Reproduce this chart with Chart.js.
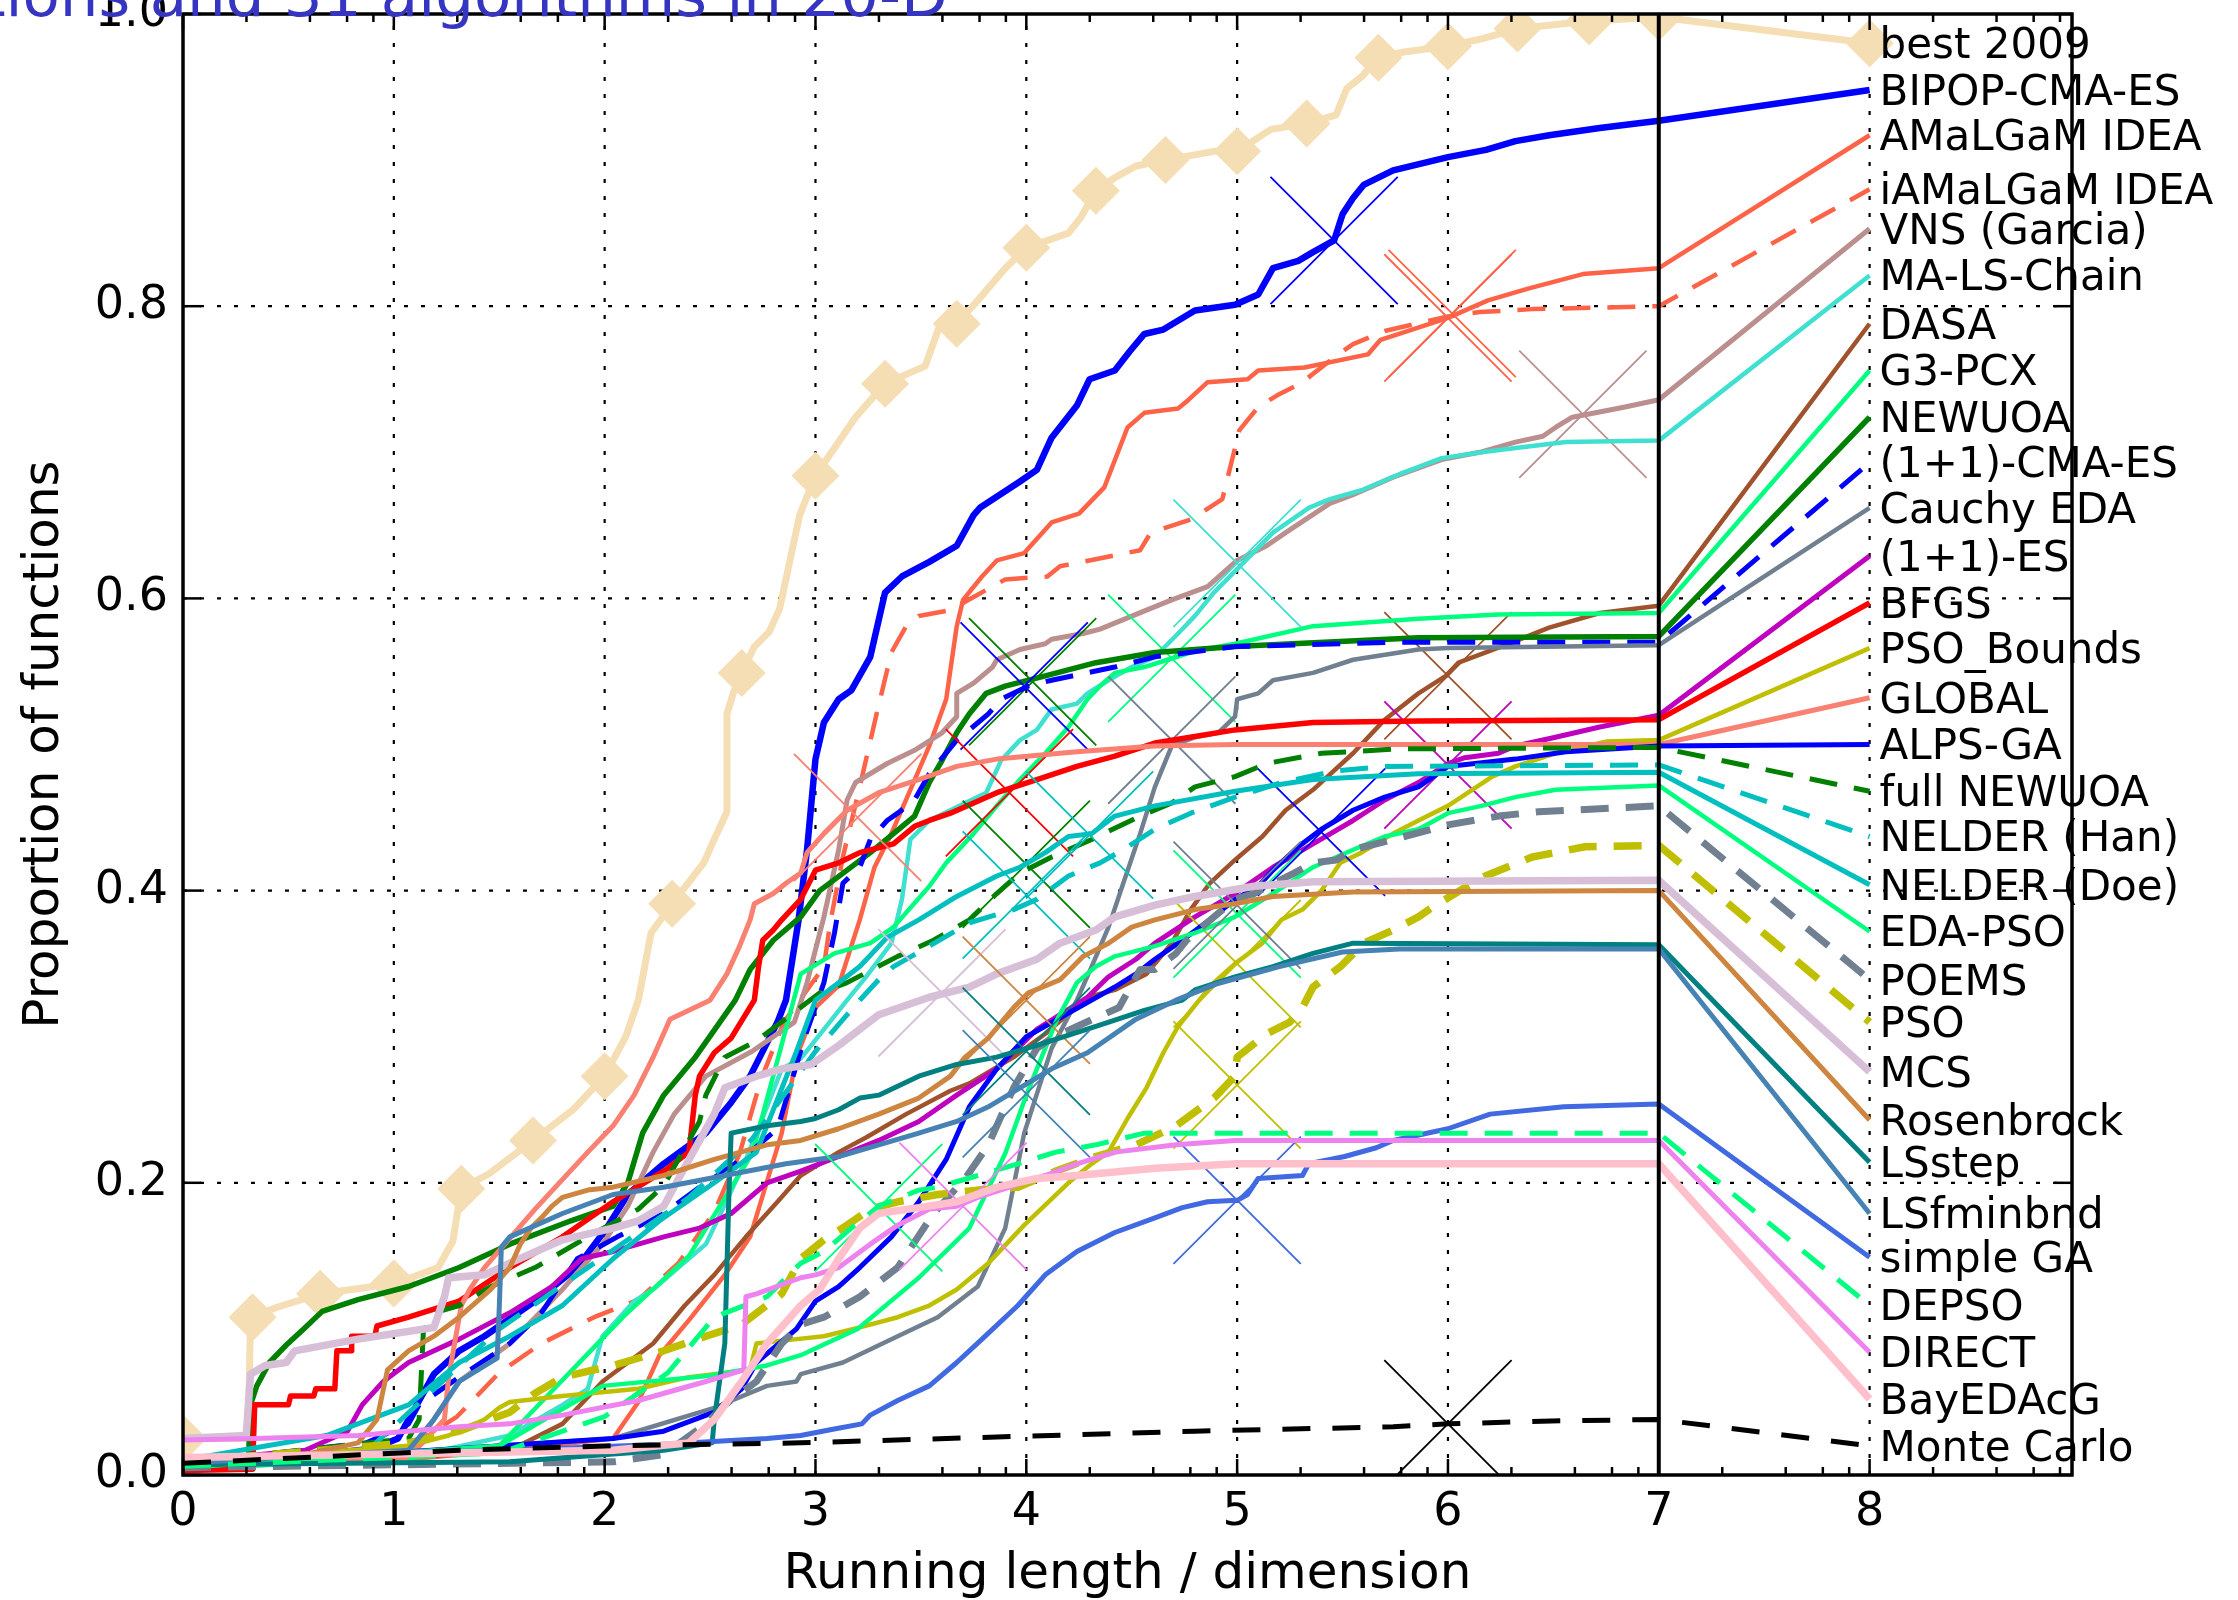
<!DOCTYPE html>
<html lang="en">
<head>
<meta charset="UTF-8">
<title>ECDF of running length, 31 algorithms, 20-D</title>
<script src="https://cdn.jsdelivr.net/npm/chart.js"></script>
<style>
  html, body { margin: 0; padding: 0; background: #fff; }
  #wrap { width: 2238px; height: 1600px; position: relative; }
</style>
</head>
<body>
<div id="wrap"><canvas id="ecdf"></canvas></div>
<script>
// legend order, top to bottom
const algNames = ['best 2009', 'BIPOP-CMA-ES', 'AMaLGaM IDEA', 'iAMaLGaM IDEA', 'VNS (Garcia)',
  'MA-LS-Chain', 'DASA', 'G3-PCX', 'NEWUOA', '(1+1)-CMA-ES', 'Cauchy EDA', '(1+1)-ES', 'BFGS',
  'PSO_Bounds', 'GLOBAL', 'ALPS-GA', 'full NEWUOA', 'NELDER (Han)', 'NELDER (Doe)', 'EDA-PSO',
  'POEMS', 'PSO', 'MCS', 'Rosenbrock', 'LSstep', 'LSfminbnd', 'simple GA', 'DEPSO', 'DIRECT',
  'BayEDAcG', 'Monte Carlo'];

const xTicks = [0, 1, 2, 3, 4, 5, 6, 7, 8];
const yTicks = [0, 0.2, 0.4, 0.6, 0.8, 1.0];

// [running length / dimension, proportion of functions]; last point (x=8) is where the legend entry sits
const best2009 = [[0,0.025],[0.31,0.025],[0.32,0.108],[0.45,0.115],[0.65,0.124],[0.8,0.127],[1.0,0.131],[1.1,0.136],[1.21,0.142],[1.28,0.16],[1.32,0.196],[1.45,0.206],[1.66,0.229],[1.85,0.25],[2.0,0.273],[2.1,0.3],[2.16,0.325],[2.22,0.371],[2.32,0.391],[2.47,0.419],[2.51,0.432],[2.58,0.454],[2.58,0.521],[2.61,0.535],[2.65,0.549],[2.71,0.567],[2.78,0.577],[2.83,0.593],[2.925,0.657],[3.0,0.684],[3.19,0.724],[3.33,0.747],[3.52,0.759],[3.59,0.787],[3.67,0.788],[3.77,0.804],[3.9,0.826],[4.0,0.84],[4.2,0.85],[4.26,0.861],[4.33,0.879],[4.42,0.888],[4.52,0.896],[4.66,0.9],[4.89,0.906],[5.0,0.906],[5.16,0.921],[5.33,0.925],[5.47,0.931],[5.52,0.949],[5.59,0.957],[5.67,0.97],[5.79,0.974],[6.0,0.978],[6.16,0.983],[6.33,0.99],[6.59,0.994],[6.67,0.995],[7.0,0.998],[8,0.98]];
const bipop = [[0,0.008],[0.5,0.012],[0.9,0.018],[1.02,0.025],[1.07,0.038],[1.19,0.069],[1.31,0.085],[1.43,0.095],[1.67,0.119],[1.87,0.142],[2.01,0.169],[2.11,0.192],[2.28,0.213],[2.48,0.234],[2.6,0.255],[2.69,0.273],[2.82,0.31],[2.86,0.325],[2.92,0.38],[2.96,0.428],[3.0,0.49],[3.04,0.515],[3.11,0.531],[3.17,0.537],[3.26,0.56],[3.33,0.604],[3.41,0.615],[3.54,0.625],[3.67,0.636],[3.75,0.657],[3.78,0.662],[3.97,0.68],[4.05,0.688],[4.12,0.71],[4.24,0.732],[4.3,0.75],[4.42,0.756],[4.49,0.769],[4.56,0.781],[4.65,0.784],[4.8,0.797],[4.99,0.801],[5.1,0.808],[5.17,0.826],[5.29,0.831],[5.36,0.837],[5.46,0.845],[5.5,0.863],[5.55,0.874],[5.6,0.883],[5.74,0.893],[6.0,0.902],[6.18,0.907],[6.32,0.913],[6.48,0.917],[6.72,0.922],[7.0,0.927],[8,0.948]];
const amalgam = [[0,0.005],[1.0,0.01],[1.55,0.017],[2.04,0.025],[2.16,0.05],[2.26,0.082],[2.4,0.106],[2.57,0.137],[2.69,0.163],[2.84,0.234],[2.91,0.286],[3.0,0.32],[3.11,0.335],[3.21,0.38],[3.28,0.416],[3.36,0.439],[3.45,0.469],[3.54,0.499],[3.62,0.531],[3.67,0.581],[3.7,0.599],[3.79,0.615],[3.86,0.626],[3.99,0.631],[4.12,0.652],[4.25,0.658],[4.37,0.676],[4.48,0.717],[4.56,0.727],[4.72,0.73],[4.77,0.736],[4.86,0.748],[5.05,0.75],[5.1,0.756],[5.32,0.758],[5.62,0.767],[5.68,0.777],[5.83,0.784],[6.0,0.792],[6.19,0.804],[6.38,0.812],[6.64,0.822],[7.0,0.826],[8,0.917]];
const iamalgam = [[0,0.005],[1.0,0.012],[1.3,0.04],[1.5,0.07],[1.7,0.09],[1.95,0.108],[2.16,0.12],[2.35,0.145],[2.52,0.18],[2.64,0.22],[2.74,0.27],[2.85,0.31],[3.04,0.348],[3.07,0.378],[3.13,0.423],[3.21,0.471],[3.29,0.521],[3.36,0.563],[3.43,0.581],[3.49,0.588],[3.64,0.592],[3.75,0.601],[3.9,0.613],[4.1,0.615],[4.16,0.622],[4.37,0.628],[4.54,0.633],[4.59,0.645],[4.78,0.654],[4.93,0.668],[4.99,0.703],[5.01,0.715],[5.1,0.731],[5.19,0.739],[5.3,0.747],[5.47,0.766],[5.55,0.774],[5.7,0.783],[6.0,0.793],[6.15,0.796],[6.4,0.798],[7.0,0.8],[8,0.88]];
const vns = [[0,0.005],[1.07,0.014],[1.19,0.038],[1.31,0.064],[1.55,0.09],[1.8,0.127],[1.99,0.158],[2.11,0.184],[2.23,0.221],[2.33,0.247],[2.48,0.273],[2.7,0.29],[2.9,0.31],[2.96,0.337],[3.04,0.382],[3.11,0.428],[3.15,0.462],[3.19,0.474],[3.34,0.487],[3.47,0.496],[3.6,0.508],[3.67,0.519],[3.67,0.535],[3.75,0.542],[3.84,0.553],[3.86,0.558],[3.97,0.565],[4.09,0.569],[4.12,0.572],[4.27,0.576],[4.35,0.579],[4.57,0.592],[4.69,0.599],[4.86,0.608],[5.0,0.626],[5.14,0.636],[5.23,0.645],[5.44,0.665],[5.55,0.671],[5.74,0.683],[5.97,0.695],[6.15,0.7],[6.32,0.707],[6.45,0.711],[6.51,0.717],[6.59,0.724],[6.84,0.731],[7.0,0.736],[8,0.853]];
const maLsChain = [[0,0.005],[1.0,0.01],[1.55,0.027],[1.8,0.048],[1.92,0.059],[1.99,0.095],[2.14,0.119],[2.23,0.127],[2.35,0.142],[2.48,0.158],[2.55,0.179],[2.67,0.216],[2.77,0.252],[2.84,0.278],[2.93,0.285],[3.15,0.325],[3.24,0.341],[3.36,0.364],[3.41,0.394],[3.45,0.435],[3.54,0.448],[3.71,0.46],[3.81,0.467],[3.88,0.489],[3.97,0.503],[4.05,0.51],[4.12,0.524],[4.24,0.528],[4.29,0.535],[4.39,0.544],[4.5,0.553],[4.61,0.56],[4.72,0.576],[4.8,0.588],[4.89,0.604],[5.0,0.62],[5.17,0.645],[5.34,0.662],[5.44,0.668],[5.59,0.674],[5.77,0.685],[5.97,0.696],[6.16,0.7],[6.32,0.703],[6.56,0.707],[7.0,0.708],[8,0.821]];
const dasa = [[0,0.008],[1.07,0.012],[1.55,0.017],[1.8,0.035],[1.99,0.064],[2.11,0.077],[2.23,0.09],[2.38,0.116],[2.52,0.137],[2.67,0.163],[2.82,0.187],[2.93,0.205],[3.11,0.221],[3.24,0.231],[3.43,0.247],[3.64,0.263],[3.73,0.268],[3.94,0.286],[4.09,0.302],[4.29,0.327],[4.42,0.332],[4.57,0.343],[4.69,0.364],[4.78,0.387],[4.87,0.405],[4.99,0.421],[5.12,0.437],[5.23,0.455],[5.36,0.469],[5.55,0.494],[5.7,0.517],[5.86,0.535],[5.99,0.547],[6.05,0.556],[6.29,0.569],[6.48,0.58],[6.72,0.59],[7.0,0.595],[8,0.788]];
const g3pcx = [[0,0.005],[1.0,0.01],[1.5,0.02],[1.7,0.05],[1.9,0.08],[2.1,0.11],[2.4,0.15],[2.7,0.22],[2.85,0.3],[2.93,0.343],[3.09,0.357],[3.26,0.364],[3.37,0.375],[3.54,0.403],[3.62,0.419],[3.75,0.439],[3.86,0.458],[3.97,0.476],[4.09,0.494],[4.2,0.512],[4.29,0.531],[4.35,0.54],[4.42,0.549],[4.56,0.553],[4.67,0.558],[4.8,0.564],[4.99,0.569],[5.36,0.581],[5.86,0.586],[6.24,0.589],[7.0,0.59],[8,0.756]];
const newuoa = [[0,0.005],[0.31,0.007],[0.32,0.048],[0.35,0.061],[0.41,0.077],[0.49,0.089],[0.58,0.101],[0.66,0.112],[0.83,0.12],[1.07,0.129],[1.31,0.142],[1.55,0.158],[1.84,0.174],[2.04,0.184],[2.11,0.2],[2.18,0.234],[2.28,0.26],[2.43,0.286],[2.62,0.325],[2.69,0.346],[2.8,0.366],[2.93,0.382],[3.02,0.4],[3.15,0.414],[3.26,0.426],[3.37,0.439],[3.47,0.451],[3.54,0.474],[3.6,0.489],[3.67,0.508],[3.73,0.521],[3.81,0.535],[3.9,0.54],[4.09,0.547],[4.33,0.556],[4.61,0.563],[4.99,0.567],[5.86,0.573],[7.0,0.574],[8,0.724]];
const cma11 = [[0,0.008],[0.87,0.022],[1.07,0.035],[1.12,0.048],[1.31,0.067],[1.55,0.09],[1.7,0.111],[1.87,0.148],[2.06,0.163],[2.28,0.179],[2.45,0.197],[2.65,0.216],[2.82,0.237],[2.95,0.3],[3.04,0.337],[3.09,0.371],[3.13,0.405],[3.21,0.416],[3.26,0.435],[3.34,0.448],[3.39,0.453],[3.47,0.462],[3.54,0.48],[3.67,0.503],[3.73,0.51],[3.82,0.521],[3.88,0.531],[4.01,0.54],[4.12,0.544],[4.42,0.553],[4.61,0.56],[4.99,0.567],[5.77,0.57],[7.0,0.57],[8,0.693]];
const cauchyEda = [[0,0.006],[2.04,0.025],[2.52,0.046],[2.77,0.061],[2.91,0.064],[2.93,0.069],[3.13,0.077],[3.39,0.095],[3.58,0.108],[3.77,0.129],[3.9,0.169],[3.99,0.234],[4.12,0.292],[4.24,0.325],[4.31,0.348],[4.39,0.375],[4.46,0.405],[4.54,0.439],[4.61,0.471],[4.69,0.499],[4.8,0.505],[4.91,0.508],[4.99,0.519],[5.0,0.531],[5.1,0.535],[5.17,0.544],[5.36,0.549],[5.55,0.558],[5.86,0.565],[6.0,0.566],[7.0,0.568],[8,0.662]];
const es11 = [[0,0.009],[0.58,0.017],[0.78,0.03],[0.85,0.048],[0.95,0.064],[1.07,0.077],[1.31,0.093],[1.55,0.111],[1.75,0.129],[1.89,0.148],[2.04,0.153],[2.28,0.163],[2.45,0.169],[2.6,0.179],[2.77,0.2],[2.93,0.208],[3.11,0.218],[3.3,0.229],[3.49,0.242],[3.67,0.26],[3.86,0.278],[4.05,0.305],[4.29,0.327],[4.39,0.341],[4.52,0.353],[4.61,0.364],[4.8,0.382],[4.99,0.398],[5.17,0.416],[5.36,0.432],[5.55,0.448],[5.7,0.462],[5.86,0.474],[6.0,0.487],[6.08,0.491],[6.24,0.494],[6.32,0.499],[6.51,0.505],[6.72,0.512],[7.0,0.52],[8,0.629]];
const bfgs = [[0,0.003],[0.33,0.004],[0.34,0.048],[0.5,0.048],[0.51,0.054],[0.62,0.054],[0.63,0.059],[0.72,0.059],[0.73,0.085],[0.8,0.085],[0.8,0.095],[0.91,0.095],[0.92,0.102],[1.07,0.108],[1.31,0.119],[1.55,0.142],[1.8,0.163],[2.04,0.187],[2.28,0.208],[2.4,0.221],[2.43,0.26],[2.45,0.273],[2.52,0.289],[2.6,0.299],[2.71,0.325],[2.73,0.348],[2.75,0.366],[2.8,0.373],[2.84,0.38],[2.93,0.394],[3.0,0.414],[3.11,0.419],[3.21,0.426],[3.37,0.432],[3.47,0.444],[3.54,0.448],[3.64,0.453],[3.75,0.46],[3.86,0.467],[4.05,0.476],[4.24,0.485],[4.42,0.492],[4.61,0.501],[4.99,0.51],[5.36,0.515],[5.86,0.516],[7.0,0.517],[8,0.597]];
const psoBounds = [[0,0.01],[0.34,0.012],[1.07,0.02],[1.26,0.027],[1.43,0.038],[1.5,0.046],[1.55,0.05],[1.8,0.054],[2.16,0.059],[2.4,0.067],[2.69,0.072],[2.72,0.09],[2.91,0.093],[3.04,0.095],[3.21,0.101],[3.39,0.108],[3.54,0.116],[3.67,0.127],[3.82,0.145],[3.99,0.171],[4.2,0.2],[4.31,0.213],[4.39,0.221],[4.48,0.244],[4.57,0.265],[4.65,0.289],[4.72,0.307],[4.82,0.325],[4.89,0.337],[4.99,0.35],[5.12,0.364],[5.21,0.38],[5.31,0.387],[5.4,0.4],[5.49,0.419],[5.59,0.426],[5.74,0.439],[5.86,0.448],[6.0,0.458],[6.21,0.478],[6.32,0.485],[6.51,0.494],[6.75,0.502],[7.0,0.503],[8,0.566]];
const globalAlg = [[0,0.008],[1.07,0.012],[1.24,0.038],[1.26,0.067],[1.32,0.116],[1.36,0.127],[1.43,0.142],[1.67,0.182],[1.92,0.221],[2.04,0.239],[2.14,0.26],[2.23,0.286],[2.31,0.312],[2.5,0.325],[2.58,0.343],[2.64,0.362],[2.69,0.38],[2.71,0.391],[2.8,0.398],[2.86,0.405],[2.93,0.412],[2.96,0.426],[3.04,0.439],[3.15,0.455],[3.3,0.467],[3.49,0.476],[3.67,0.485],[3.86,0.49],[4.24,0.495],[4.61,0.499],[4.99,0.5],[7.0,0.5],[8,0.532]];
const alpsGa = [[0,0.008],[1.07,0.016],[2.04,0.025],[2.28,0.03],[2.52,0.043],[2.65,0.059],[2.72,0.077],[2.91,0.1],[3.0,0.119],[3.11,0.129],[3.21,0.142],[3.36,0.163],[3.49,0.187],[3.62,0.216],[3.73,0.252],[3.86,0.278],[4.0,0.3],[4.31,0.325],[4.42,0.334],[4.52,0.343],[4.61,0.353],[4.74,0.366],[4.87,0.38],[4.99,0.394],[5.1,0.403],[5.17,0.414],[5.29,0.43],[5.4,0.442],[5.55,0.455],[5.7,0.464],[5.86,0.471],[6.0,0.485],[6.32,0.49],[6.56,0.495],[7.0,0.499],[8,0.5]];
const fullNewuoa = [[0,0.008],[1.07,0.025],[1.12,0.038],[1.14,0.098],[1.19,0.111],[1.31,0.116],[1.46,0.129],[1.67,0.142],[1.92,0.163],[2.16,0.182],[2.28,0.198],[2.45,0.242],[2.48,0.26],[2.57,0.286],[2.72,0.297],[3.02,0.33],[3.15,0.337],[3.39,0.355],[3.56,0.366],[3.73,0.38],[3.86,0.398],[3.97,0.412],[4.12,0.423],[4.31,0.435],[4.54,0.451],[4.69,0.46],[4.8,0.471],[4.99,0.478],[5.14,0.487],[5.4,0.494],[5.77,0.497],[7.0,0.498],[8,0.468]];
const nelderHan = [[0,0.01],[0.9,0.02],[1.2,0.06],[1.5,0.1],[1.8,0.13],[2.1,0.16],[2.4,0.19],[2.7,0.23],[3.0,0.29],[3.21,0.325],[3.3,0.339],[3.37,0.348],[3.54,0.362],[3.73,0.378],[3.94,0.387],[4.05,0.394],[4.2,0.41],[4.35,0.419],[4.46,0.428],[4.61,0.442],[4.78,0.453],[4.99,0.464],[5.21,0.474],[5.47,0.482],[5.7,0.485],[7.0,0.486],[8,0.437]];
const nelderDoe = [[0,0.01],[0.68,0.027],[1.07,0.048],[1.31,0.077],[1.55,0.095],[1.8,0.116],[2.04,0.148],[2.26,0.174],[2.52,0.2],[2.72,0.221],[2.91,0.29],[3.0,0.325],[3.11,0.337],[3.21,0.348],[3.34,0.368],[3.49,0.38],[3.67,0.396],[3.86,0.41],[3.97,0.416],[4.09,0.426],[4.2,0.437],[4.31,0.439],[4.42,0.451],[4.61,0.458],[4.99,0.468],[5.36,0.476],[5.86,0.48],[7.0,0.481],[8,0.404]];
const edaPso = [[0,0.005],[1.5,0.02],[1.99,0.061],[2.5,0.068],[2.77,0.075],[2.93,0.082],[3.2,0.1],[3.49,0.135],[3.73,0.169],[3.9,0.22],[4.0,0.26],[4.14,0.31],[4.24,0.337],[4.33,0.348],[4.42,0.355],[4.61,0.362],[4.8,0.371],[4.99,0.382],[5.17,0.398],[5.36,0.416],[5.55,0.428],[5.7,0.437],[5.86,0.442],[6.0,0.453],[6.16,0.458],[6.32,0.464],[6.51,0.469],[7.0,0.472],[8,0.372]];
const poems = [[0,0.005],[2.04,0.009],[2.28,0.014],[2.48,0.035],[2.57,0.048],[2.72,0.064],[2.84,0.09],[2.93,0.103],[3.04,0.108],[3.21,0.122],[3.39,0.142],[3.56,0.179],[3.71,0.203],[3.82,0.226],[3.94,0.265],[4.05,0.292],[4.12,0.299],[4.24,0.307],[4.44,0.32],[4.54,0.346],[4.61,0.346],[4.71,0.357],[4.76,0.366],[4.89,0.382],[4.99,0.394],[5.08,0.398],[5.27,0.412],[5.36,0.419],[5.47,0.421],[5.55,0.428],[5.74,0.435],[6.0,0.445],[6.24,0.451],[6.43,0.454],[6.72,0.456],[7.0,0.458],[8,0.339]];
const pso = [[0,0.009],[1.07,0.022],[1.31,0.03],[1.55,0.043],[1.67,0.056],[1.8,0.067],[2.04,0.075],[2.28,0.085],[2.48,0.095],[2.65,0.103],[2.84,0.124],[2.93,0.148],[3.04,0.161],[3.15,0.171],[3.26,0.182],[3.39,0.187],[3.58,0.192],[3.77,0.195],[3.96,0.197],[4.14,0.208],[4.33,0.218],[4.52,0.226],[4.71,0.239],[4.89,0.258],[4.99,0.273],[5.0,0.286],[5.14,0.302],[5.25,0.31],[5.31,0.32],[5.36,0.334],[5.49,0.348],[5.6,0.364],[5.74,0.373],[5.86,0.382],[5.93,0.389],[6.16,0.409],[6.4,0.423],[6.65,0.43],[7.0,0.431],[8,0.31]];
const mcs = [[0,0.025],[0.3,0.027],[0.32,0.069],[0.39,0.075],[0.49,0.077],[0.53,0.085],[0.83,0.093],[1.19,0.101],[1.24,0.122],[1.26,0.135],[1.43,0.137],[1.55,0.145],[1.8,0.161],[2.04,0.169],[2.16,0.174],[2.28,0.184],[2.4,0.216],[2.52,0.247],[2.57,0.265],[2.72,0.273],[2.84,0.278],[2.98,0.281],[3.11,0.294],[3.3,0.315],[3.54,0.327],[3.73,0.334],[3.86,0.343],[4.05,0.353],[4.16,0.364],[4.33,0.373],[4.42,0.382],[4.61,0.39],[4.8,0.396],[5.08,0.403],[5.36,0.406],[7.0,0.407],[8,0.276]];
const rosenbrock = [[0,0.009],[0.58,0.014],[0.83,0.022],[0.92,0.038],[0.97,0.072],[1.07,0.085],[1.19,0.095],[1.31,0.108],[1.46,0.127],[1.55,0.142],[1.6,0.158],[1.65,0.169],[1.7,0.176],[1.75,0.184],[1.8,0.19],[1.92,0.195],[2.04,0.197],[2.28,0.205],[2.52,0.216],[2.77,0.226],[2.93,0.229],[3.11,0.237],[3.3,0.247],[3.49,0.258],[3.64,0.273],[3.71,0.286],[3.82,0.299],[3.94,0.32],[4.01,0.33],[4.16,0.339],[4.27,0.355],[4.39,0.364],[4.5,0.375],[4.61,0.38],[4.8,0.387],[4.99,0.391],[5.17,0.396],[5.55,0.399],[7.0,0.4],[8,0.243]];
const lsStep = [[0,0.007],[1.55,0.009],[2.28,0.017],[2.51,0.022],[2.52,0.038],[2.57,0.09],[2.59,0.195],[2.6,0.234],[2.77,0.239],[2.93,0.242],[3.0,0.244],[3.11,0.25],[3.21,0.258],[3.3,0.26],[3.49,0.273],[3.67,0.281],[3.86,0.286],[4.05,0.294],[4.33,0.307],[4.56,0.318],[4.74,0.325],[4.8,0.332],[4.99,0.341],[5.17,0.348],[5.36,0.357],[5.55,0.364],[7.0,0.363],[8,0.214]];
const lsFminbnd = [[0,0.008],[1.07,0.017],[1.19,0.038],[1.31,0.064],[1.49,0.08],[1.5,0.114],[1.51,0.156],[1.55,0.163],[1.8,0.179],[2.04,0.192],[2.28,0.197],[2.57,0.205],[2.86,0.213],[3.11,0.218],[3.3,0.226],[3.49,0.234],[3.67,0.242],[3.82,0.252],[3.97,0.265],[4.12,0.278],[4.29,0.289],[4.52,0.312],[4.71,0.325],[4.9,0.336],[5.2,0.348],[5.5,0.358],[5.77,0.36],[7.0,0.36],[8,0.179]];
const simpleGa = [[0,0.012],[1.55,0.017],[2.28,0.021],[2.77,0.025],[2.93,0.027],[3.07,0.031],[3.22,0.035],[3.26,0.041],[3.39,0.051],[3.54,0.061],[3.67,0.077],[3.79,0.093],[3.96,0.116],[4.09,0.137],[4.24,0.153],[4.42,0.166],[4.61,0.176],[4.74,0.183],[4.86,0.187],[5.0,0.188],[5.05,0.192],[5.1,0.203],[5.31,0.205],[5.34,0.213],[5.51,0.218],[5.66,0.224],[5.74,0.229],[6.0,0.237],[6.2,0.247],[6.55,0.252],[7.0,0.254],[8,0.149]];
const depso = [[0,0.006],[1.5,0.015],[2.0,0.04],[2.3,0.07],[2.52,0.108],[2.77,0.122],[2.93,0.145],[3.04,0.153],[3.17,0.169],[3.3,0.184],[3.49,0.195],[3.58,0.197],[3.77,0.205],[3.96,0.213],[4.14,0.221],[4.33,0.226],[4.56,0.234],[7.0,0.234],[8,0.116]];
const directAlg = [[0,0.024],[0.34,0.025],[0.83,0.027],[1.31,0.033],[1.55,0.035],[1.8,0.041],[2.16,0.051],[2.48,0.064],[2.66,0.072],[2.67,0.122],[2.72,0.124],[2.93,0.135],[3.0,0.137],[3.11,0.142],[3.26,0.158],[3.39,0.171],[3.54,0.182],[3.67,0.184],[3.77,0.19],[3.92,0.197],[4.09,0.205],[4.24,0.213],[4.42,0.221],[4.71,0.226],[4.99,0.229],[7.0,0.229],[8,0.084]];
const bayEda = [[0,0.012],[2.04,0.017],[2.4,0.022],[2.52,0.038],[2.65,0.064],[2.77,0.09],[2.93,0.116],[3.02,0.127],[3.11,0.148],[3.21,0.169],[3.3,0.179],[3.49,0.183],[3.67,0.187],[3.86,0.197],[4.05,0.203],[4.24,0.205],[4.61,0.21],[5.0,0.213],[7.0,0.213],[8,0.052]];
const monteCarlo = [[0,0.008],[1.31,0.017],[2.04,0.02],[2.93,0.022],[3.86,0.026],[4.8,0.03],[5.74,0.033],[6.0,0.035],[6.49,0.037],[7.0,0.038],[8,0.02]];

const allCurves = [best2009, bipop, amalgam, iamalgam, vns, maLsChain, dasa, g3pcx, newuoa, cma11,
  cauchyEda, es11, bfgs, psoBounds, globalAlg, alpsGa, fullNewuoa, nelderHan, nelderDoe, edaPso,
  poems, pso, mcs, rosenbrock, lsStep, lsFminbnd, simpleGa, depso, directAlg, bayEda, monteCarlo];

// the big "x" on each curve (null = none visible)
const crossMarks = [null, [5.46,0.845], [6.0,0.792], [6.02,0.795], [6.64,0.726], [5.0,0.624],
  [6.0,0.547], [4.69,0.559], [4.03,0.543], [3.99,0.54], [4.69,0.503], [6.0,0.486], [3.92,0.467],
  [5.0,0.35], [3.2,0.45], [5.4,0.44], [4.0,0.418], [4.0,0.397], [4.3,0.438], [5.0,0.384],
  [5.0,0.39], [5.0,0.267], [3.6,0.33], [4.0,0.325], [4.0,0.29], [4.0,0.261], [5.0,0.188],
  [3.3,0.183], [3.7,0.184], null, [6.0,0.035]];

// diamonds on the best 2009 curve
const bestDiamondX = [0, 0.33, 0.65, 1.0, 1.32, 1.66, 2.0, 2.32, 2.65, 3.0, 3.33, 3.67, 4.0, 4.33, 4.66, 5.0, 5.33, 5.67, 6.0, 6.33, 6.67, 7.0, 8.0];
const bestDiamondY = [0.025, 0.108, 0.124, 0.131, 0.196, 0.229, 0.273, 0.391, 0.549, 0.684, 0.747, 0.788, 0.84, 0.879, 0.9, 0.906, 0.925, 0.97, 0.978, 0.99, 0.995, 0.998, 0.98];

// colour, line width, dash
const curveStyles = [
  ['#F5DEB3', 7, null], ['#0000FF', 6.5, null], ['#FF6347', 4.5, null], ['#FF6347', 4.5, 'd'],
  ['#BC8F8F', 5, null], ['#40E0D0', 4.5, null], ['#A0522D', 4.5, null], ['#00FF7F', 4.5, null],
  ['#008000', 5.5, null], ['#0000FF', 5, 'd'], ['#708090', 4.5, null], ['#BF00BF', 5, null],
  ['#FF0000', 5.5, null], ['#BFBF00', 4.5, null], ['#FA8072', 5, null], ['#0000FF', 5, null],
  ['#008000', 5, 'd'], ['#00BFBF', 5, 'd'], ['#00BFBF', 5, null], ['#00FF7F', 4.5, null],
  ['#708090', 7, 'd'], ['#BFBF00', 7.5, 'd'], ['#D8BFD8', 7.5, null], ['#CD853F', 5, null],
  ['#008080', 5, null], ['#4682B4', 5, null], ['#4169E1', 5, null], ['#00FF7F', 5, 'd'],
  ['#EE82EE', 5, null], ['#FFC0CB', 7.5, null], ['#000000', 5, 'mc']];

const FONT = "'DejaVu Sans', sans-serif";
const n = allCurves.length;
const datasets = [];

allCurves.forEach((pts, i) => {
  const st = curveStyles[i];
  let dash = [];
  if (st[2] === 'd') dash = [28, 17];
  if (st[2] === 'mc') dash = [28, 22];
  datasets.push({
    label: algNames[i],
    data: pts.map(p => ({x: p[0], y: p[1]})),
    showLine: true,
    borderColor: st[0],
    borderWidth: st[1],
    borderDash: dash,
    borderJoinStyle: 'round',
    pointRadius: 0,
    fill: false,
    clip: 0,
    order: n - i
  });
  const m = crossMarks[i];
  if (m) {
    datasets.push({
      label: algNames[i] + ' mark',
      data: [{x: m[0], y: m[1]}],
      showLine: false,
      pointStyle: 'crossRot',
      pointRadius: 90,
      pointBorderColor: st[0],
      pointBorderWidth: 1.8,
      clip: 0,
      order: n - i
    });
  }
});

datasets.push({
  label: 'best 2009 diamonds',
  data: bestDiamondX.map((x, k) => ({x: x, y: bestDiamondY[k]})),
  showLine: false,
  pointStyle: 'rectRot',
  pointRadius: 24,
  pointBackgroundColor: '#F5DEB3',
  pointBorderColor: '#F5DEB3',
  pointBorderWidth: 0,
  clip: 0,
  order: n
});

function strokeLine(ctx, x1, y1, x2, y2) {
  ctx.beginPath();
  ctx.moveTo(x1, y1);
  ctx.lineTo(x2, y2);
  ctx.stroke();
}

const decorations = {
  id: 'decorations',
  beforeDatasetsDraw(chart) {
    const {ctx, chartArea: a, scales: {x, y}} = chart;
    ctx.save();
    ctx.strokeStyle = '#000';
    ctx.lineWidth = 2.2;
    ctx.setLineDash([4, 13]);
    xTicks.forEach(v => {
      if (v === 0 || v === 7) return;
      const px = x.getPixelForValue(v);
      strokeLine(ctx, px, a.bottom, px, a.top);
    });
    yTicks.forEach(v => {
      if (v === 0 || v === 1) return;
      const py = y.getPixelForValue(v);
      strokeLine(ctx, a.left, py, a.right, py);
    });
    ctx.restore();
  },
  afterDatasetsDraw(chart) {
    const {ctx, chartArea: a, scales: {x, y}} = chart;
    ctx.save();

    // legend labels next to the x=8 line ends
    ctx.fillStyle = '#000';
    ctx.font = '42px ' + FONT;
    ctx.textAlign = 'left';
    ctx.textBaseline = 'middle';
    allCurves.forEach((pts, i) => {
      const last = pts[pts.length - 1];
      ctx.fillText(algNames[i], x.getPixelForValue(8) + 10, y.getPixelForValue(last[1]) + 4);
    });

    // solid line at x=7
    ctx.strokeStyle = '#000';
    ctx.lineWidth = 4;
    const p7 = x.getPixelForValue(7);
    strokeLine(ctx, p7, a.top, p7, a.bottom);

    // frame
    ctx.lineWidth = 3.5;
    ctx.strokeRect(a.left, a.top, a.right - a.left, a.bottom - a.top);

    // inward tick marks
    ctx.lineWidth = 2.5;
    const xMax = x.max;
    for (let v = 0; v <= 8; v++) {
      const px = x.getPixelForValue(v);
      strokeLine(ctx, px, a.bottom, px, a.bottom - 16);
      strokeLine(ctx, px, a.top, px, a.top + 16);
      [2, 4, 6, 8].forEach(k => {
        const mv = v + Math.log10(k);
        if (mv >= xMax) return;
        const mx = x.getPixelForValue(mv);
        strokeLine(ctx, mx, a.bottom, mx, a.bottom - 8);
        strokeLine(ctx, mx, a.top, mx, a.top + 8);
      });
    }
    yTicks.forEach(v => {
      const py = y.getPixelForValue(v);
      strokeLine(ctx, a.left, py, a.left + 18, py);
      strokeLine(ctx, a.right, py, a.right - 18, py);
    });

    // title, mostly cut off at the top edge
    ctx.fillStyle = '#3535c2';
    ctx.font = '61px ' + FONT;
    ctx.textAlign = 'right';
    ctx.textBaseline = 'alphabetic';
    ctx.fillText('f1-f24, 24 functions and 31 algorithms in 20-D', 948, 16);
    ctx.restore();
  }
};

new Chart(document.getElementById('ecdf'), {
  type: 'scatter',
  data: {datasets: datasets},
  options: {
    responsive: true,
    maintainAspectRatio: false,
    devicePixelRatio: 1,
    animation: false,
    events: [],
    layout: {autoPadding: false, padding: {left: 0, right: 166, top: 14, bottom: 0}},
    plugins: {legend: {display: false}, tooltip: {enabled: false}},
    scales: {
      x: {
        type: 'linear',
        min: 0,
        max: 8.96,
        grid: {display: false, drawTicks: false},
        border: {display: false},
        ticks: {
          stepSize: 1,
          includeBounds: false,
          padding: 10,
          color: '#000',
          font: {family: FONT, size: 46},
          callback: v => (Number.isInteger(v) ? String(v) : '')
        },
        title: {
          display: true,
          text: 'Running length / dimension',
          color: '#000',
          font: {family: FONT, size: 50, lineHeight: 1},
          padding: {top: 0, bottom: 0}
        },
        afterFit: s => { s.height = 125; s.paddingLeft = 0; s.paddingRight = 0; }
      },
      y: {
        type: 'linear',
        min: 0,
        max: 1,
        grid: {display: false, drawTicks: false},
        border: {display: false},
        ticks: {
          stepSize: 0.2,
          padding: 15,
          color: '#000',
          font: {family: FONT, size: 46},
          callback: v => v.toFixed(1)
        },
        title: {
          display: true,
          text: 'Proportion of functions',
          color: '#000',
          font: {family: FONT, size: 50, lineHeight: 1},
          padding: {top: 20, bottom: 0}
        },
        afterFit: s => { s.width = 183; s.paddingTop = 0; s.paddingBottom = 0; }
      }
    }
  },
  plugins: [decorations]
});
</script>
</body>
</html>
